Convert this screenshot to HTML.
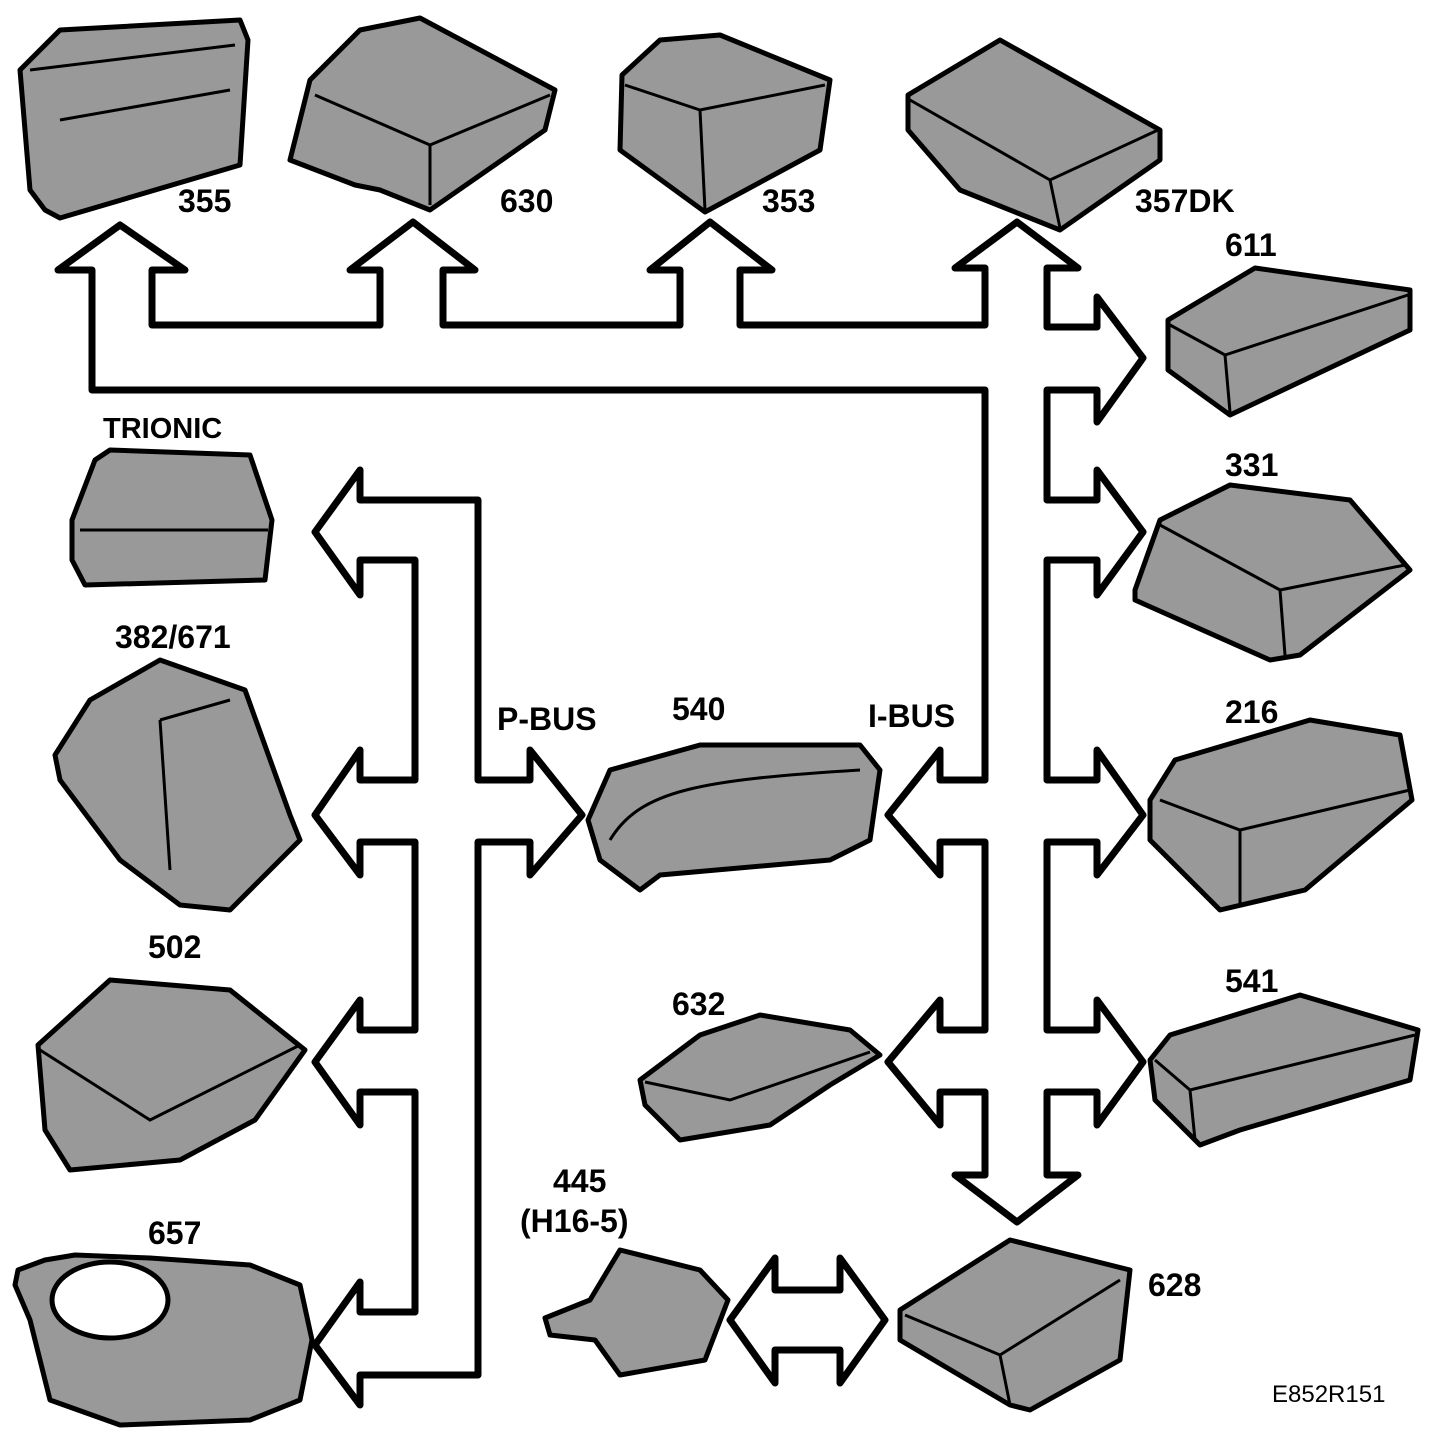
<!DOCTYPE html>
<html><head><meta charset="utf-8"><style>
body{margin:0;background:#fff}
svg{display:block}
text{font-family:"Liberation Sans",sans-serif;font-weight:bold;font-size:32px;fill:#000}
.c{fill:#999;stroke:#000;stroke-width:5;stroke-linejoin:round}
.d{fill:none;stroke:#000;stroke-width:3}
</style></head><body>
<svg width="1456" height="1454" viewBox="0 0 1456 1454">
<g fill="#fff" stroke="#000" stroke-width="7" stroke-linejoin="round">
<polygon points="120,225 185,270 152,270 152,325 380,325 380,270 350,270 413,222 475,270 443,270 443,325 680,325 680,270 650,270 710,222 772,270 740,270 740,325 985,325 985,268 955,268 1017,222 1078,268 1047,268 1047,327 1097,327 1097,297 1143,358 1097,422 1097,390 1047,390 1047,500 1097,500 1097,470 1143,532 1097,595 1097,560 1047,560 1047,780 1097,780 1097,750 1143,815 1097,875 1097,842 1047,842 1047,1030 1097,1030 1097,1000 1143,1062 1097,1125 1097,1092 1047,1092 1047,1175 1078,1175 1017,1222 955,1175 985,1175 985,1092 940,1092 940,1125 888,1062 940,1000 940,1030 985,1030 985,842 940,842 940,875 888,815 940,750 940,780 985,780 985,390 92,390 92,270 58,270"/>
<polygon points="478,500 478,780 530,780 530,750 582,815 530,875 530,842 478,842 478,1375 360,1375 360,1405 315,1345 360,1282 360,1312 415,1312 415,1092 360,1092 360,1125 315,1062 360,1000 360,1030 415,1030 415,842 360,842 360,875 315,815 360,750 360,780 415,780 415,560 360,560 360,595 315,532 360,470 360,500"/>
<polygon points="730,1320 775,1258 775,1290 840,1290 840,1258 885,1320 840,1383 840,1350 775,1350 775,1383"/>
</g>
<polygon class="c" points="20,70 60,30 240,20 248,40 240,165 60,218 45,210 30,190"/>
<path class="d" d="M30,70 L235,45 M60,120 L230,90"/>
<polygon class="c" points="310,80 360,30 420,18 555,90 545,130 430,210 380,190 355,185 290,160"/>
<path class="d" d="M315,95 L430,145 L550,95 M430,145 L430,205"/>
<polygon class="c" points="622,75 660,40 720,35 830,80 820,150 705,212 620,150"/>
<path class="d" d="M625,85 L700,110 L825,85 M700,110 L705,210"/>
<polygon class="c" points="908,95 1000,40 1160,130 1160,160 1060,230 960,190 908,130"/>
<path class="d" d="M910,100 L1050,180 L1158,130 M1050,180 L1060,228"/>
<polygon class="c" points="1168,320 1255,268 1410,290 1410,330 1230,415 1168,370"/>
<path class="d" d="M1170,325 L1225,355 L1408,295 M1225,355 L1230,412"/>
<polygon class="c" points="72,520 95,460 110,450 250,455 272,520 265,580 85,585 72,560"/>
<path class="d" d="M80,530 L268,530"/>
<polygon class="c" points="1135,590 1160,520 1230,485 1350,500 1410,570 1300,655 1270,660 1135,600"/>
<path class="d" d="M1160,525 L1280,590 L1405,565 M1280,590 L1285,655"/>
<polygon class="c" points="55,755 90,700 160,660 245,690 290,815 300,840 230,910 180,905 120,860 60,780"/>
<path class="d" d="M160,720 L230,700 M160,720 L170,870"/>
<polygon class="c" points="588,820 610,770 700,745 860,745 880,770 870,840 830,860 660,875 640,890 600,860"/>
<path class="d" d="M610,840 C640,790 700,780 860,770"/>
<polygon class="c" points="1150,800 1175,760 1310,720 1400,735 1412,800 1305,890 1220,910 1150,840"/>
<path class="d" d="M1160,800 L1240,830 L1410,790 M1240,830 L1240,905"/>
<polygon class="c" points="38,1045 110,980 230,990 305,1050 255,1120 180,1160 70,1170 45,1130"/>
<path class="d" d="M40,1050 L150,1120 L300,1045"/>
<polygon class="c" points="640,1080 700,1035 760,1015 850,1030 880,1055 830,1085 770,1125 680,1140 645,1105"/>
<path class="d" d="M645,1082 L730,1100 L870,1052"/>
<polygon class="c" points="1150,1060 1170,1035 1300,995 1418,1030 1410,1080 1240,1130 1200,1145 1155,1100"/>
<path class="d" d="M1155,1060 L1190,1090 L1415,1035 M1190,1090 L1195,1140"/>
<polygon class="c" points="545,1318 590,1300 620,1250 700,1270 728,1300 705,1360 620,1375 595,1340 550,1335"/>
<polygon class="c" points="900,1310 1010,1240 1110,1265 1130,1270 1120,1360 1030,1410 1010,1405 900,1340"/>
<path class="d" d="M905,1315 L1000,1355 L1120,1280 M1000,1355 L1010,1405"/>
<polygon class="c" points="18,1270 45,1260 75,1255 150,1258 250,1265 300,1285 312,1340 300,1400 250,1420 120,1425 50,1400 30,1320 15,1285"/>
<ellipse cx="110" cy="1300" rx="58" ry="38" fill="#fff" stroke="#000" stroke-width="5"/>
<text x="178" y="212">355</text>
<text x="500" y="212">630</text>
<text x="762" y="212">353</text>
<text x="1135" y="212">357DK</text>
<text x="1225" y="256">611</text>
<text x="103" y="438" style="font-size:29px">TRIONIC</text>
<text x="1225" y="476">331</text>
<text x="115" y="648">382/671</text>
<text x="497" y="730">P-BUS</text>
<text x="672" y="720">540</text>
<text x="868" y="727">I-BUS</text>
<text x="1225" y="723">216</text>
<text x="148" y="958">502</text>
<text x="672" y="1015">632</text>
<text x="1225" y="992">541</text>
<text x="553" y="1192">445</text>
<text x="520" y="1232">(H16-5)</text>
<text x="148" y="1244">657</text>
<text x="1148" y="1296">628</text>
<text x="1272" y="1402" style="font-weight:normal;font-size:24px">E852R151</text>
</svg>
</body></html>
